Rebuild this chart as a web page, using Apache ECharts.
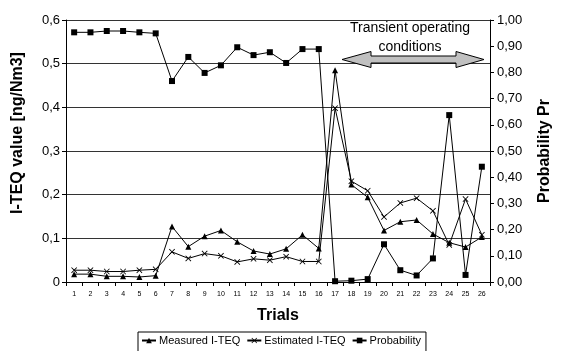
<!DOCTYPE html>
<html>
<head>
<meta charset="utf-8">
<script src="https://cdn.jsdelivr.net/npm/echarts@6/dist/echarts.min.js"></script>
<style>html,body{margin:0;padding:0;background:#fff}#c{width:561px;height:351px}</style>
</head>
<body>
<div id="c"></div>
<script>
var trials = ['1','2','3','4','5','6','7','8','9','10','11','12','13','14','15','16','17','18','19','20','21','22','23','24','25','26'];
var measured = [0.018,0.018,0.013,0.013,0.0115,0.0145,0.127,0.081,0.105,0.118,0.092,0.071,0.064,0.076,0.108,0.077,0.485,0.223,0.194,0.118,0.138,0.142,0.110,0.090,0.080,0.103];
var estimated = [0.027,0.027,0.024,0.024,0.027,0.029,0.069,0.054,0.065,0.060,0.046,0.053,0.050,0.058,0.047,0.047,0.398,0.231,0.209,0.149,0.181,0.192,0.163,0.085,0.190,0.108];
var probability = [0.953,0.953,0.958,0.958,0.953,0.949,0.767,0.859,0.798,0.827,0.896,0.866,0.877,0.836,0.889,0.889,0.003,0.005,0.011,0.144,0.045,0.025,0.090,0.637,0.027,0.440];
var leftTicks = {min:0, max:0.6, interval:0.1};
var rightTicks = {min:0, max:1, interval:0.1};

var font = 'Arial, "Liberation Sans", sans-serif';
var xSym = 'path://M0,1L1,0L5,4L9,0L10,1L6,5L10,9L9,10L5,6L1,10L0,9L4,5Z';
var chart = echarts.init(document.getElementById('c'), null, {renderer:'canvas'});
chart.setOption({
  animation:false,
  backgroundColor:'#fff',
  textStyle:{fontFamily:font},
  grid:{left:66, right:61, top:20, bottom:69},
  legend:{
    left:138, top:332, orient:'horizontal',
    itemWidth:14, itemHeight:7, itemGap:6,
    padding:[3,5,6,3],
    borderColor:'#000', borderWidth:1,
    textStyle:{fontFamily:font, fontSize:11, color:'#000', padding:[0,0,0,-2]},
    data:['Measured I-TEQ','Estimated I-TEQ','Probability']
  },
  xAxis:{
    type:'category', data:trials, boundaryGap:true,
    name:'Trials', nameLocation:'middle', nameGap:26,
    nameTextStyle:{fontFamily:font, fontSize:16, fontWeight:'bold', color:'#000'},
    axisLine:{lineStyle:{color:'#000', width:1}},
    axisTick:{show:true, length:4, lineStyle:{color:'#000'}, interval:0},
    axisLabel:{fontSize:7, color:'#000', margin:9, interval:0, fontFamily:font},
    splitLine:{show:false}
  },
  yAxis:[{
    type:'value', min:leftTicks.min, max:leftTicks.max, interval:leftTicks.interval,
    name:'I-TEQ value [ng/Nm3]', nameLocation:'middle', nameGap:40, nameRotate:90,
    nameTextStyle:{fontFamily:font, fontSize:16, fontWeight:'bold', color:'#000', padding:[0,0,0,36]},
    axisLine:{show:true, lineStyle:{color:'#000'}},
    axisTick:{show:true, length:4, lineStyle:{color:'#000'}},
    axisLabel:{fontSize:13, color:'#000', margin:6, fontFamily:font,
      formatter:function(v){ return v===0 ? '0' : v.toFixed(1).replace('.', ','); }},
    splitLine:{show:true, lineStyle:{color:'#333', width:1}}
  },{
    type:'value', position:'right', min:rightTicks.min, max:rightTicks.max, interval:rightTicks.interval,
    name:'Probability Pr', nameLocation:'middle', nameGap:47, nameRotate:90,
    nameTextStyle:{fontFamily:font, fontSize:16, fontWeight:'bold', color:'#000'},
    axisLine:{show:true, lineStyle:{color:'#000'}},
    axisTick:{show:true, length:4, lineStyle:{color:'#000'}},
    axisLabel:{fontSize:13, color:'#000', margin:7, fontFamily:font,
      formatter:function(v){ return v.toFixed(2).replace('.', ','); }},
    splitLine:{show:false}
  }],
  series:[{
    name:'Measured I-TEQ', type:'line', yAxisIndex:0, data:measured,
    symbol:'triangle', symbolSize:6, showAllSymbol:true,
    lineStyle:{color:'#000', width:1}, itemStyle:{color:'#000'}
  },{
    name:'Estimated I-TEQ', type:'line', yAxisIndex:0, data:estimated,
    symbol:xSym, symbolSize:6, showAllSymbol:true,
    lineStyle:{color:'#000', width:1}, itemStyle:{color:'#000'}
  },{
    name:'Probability', type:'line', yAxisIndex:1, data:probability,
    symbol:'rect', symbolSize:6, showAllSymbol:true,
    lineStyle:{color:'#000', width:1}, itemStyle:{color:'#000'}
  }],
  graphic:[{
    type:'polygon',
    shape:{points:[[342,59.5],[371,51.5],[371,56],[456,56],[456,51.5],[484,59.5],[456,67.5],[456,63],[371,63],[371,67.5]]},
    style:{fill:'#c0c0c0', stroke:'#000', lineWidth:1},
    z:10
  },{
    type:'text', x:410, y:28,
    style:{text:'Transient operating', font:'14px '+font, fill:'#000', textAlign:'center', textVerticalAlign:'middle'},
    z:10
  },{
    type:'text', x:410, y:47,
    style:{text:'conditions', font:'14px '+font, fill:'#000', textAlign:'center', textVerticalAlign:'middle'},
    z:10
  }]
});
</script>
</body>
</html>
